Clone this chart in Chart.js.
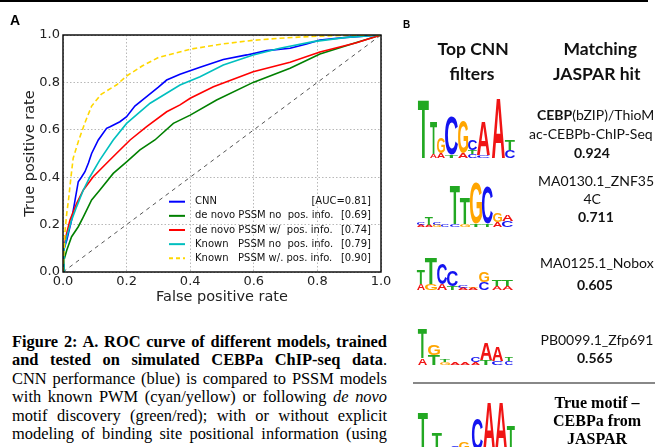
<!DOCTYPE html>
<html><head><meta charset="utf-8">
<script src="https://cdn.jsdelivr.net/npm/chart.js@4.4.0/dist/chart.umd.min.js"></script>
<style>
html,body{margin:0;padding:0;background:#fff;width:655px;height:447px;overflow:hidden;position:relative}
#c{position:absolute;left:0;top:0}
#logo{position:absolute;left:400px;top:0}
.t{position:absolute;white-space:nowrap;color:#111}
.p{display:inline-block;width:0;height:0;vertical-align:baseline}
.j{text-align:justify;text-align-last:justify}
</style></head><body>
<div style="position:absolute;left:0;top:0;width:648px;height:2px;background:#000"></div>
<canvas id="c" width="400" height="310"></canvas>
<canvas id="logo" width="255" height="447"></canvas>
<div id="cap" style="position:absolute;left:12px;top:0;width:375px;font-family:'Liberation Serif';font-size:16.4px;line-height:18.4px;color:#000">
<div class="j"><span class="p" id="capProbe"></span><b>Figure 2: A. ROC curve of different models, trained</b></div>
<div class="j"><b>and tested on simulated CEBPa ChIP-seq data</b>.</div>
<div class="j">CNN performance (blue) is compared to PSSM models</div>
<div class="j">with known PWM (cyan/yellow) or following <i>de novo</i></div>
<div class="j">motif discovery (green/red); with or without explicit</div>
<div class="j">modeling of binding site positional information (using</div>
</div>
<div style="position:absolute;left:413px;top:382px;width:242px;height:2px;background:#888"></div>
<script>
// ---- data ----
const seriesNames = ['CNN','de novo PSSM no  pos. info.','de novo PSSM w/  pos. info.','Known   PSSM no  pos. info.','Known   PSSM w/. pos. info.'];
const aucLabels = ['[AUC=0.81]','[0.69]','[0.74]','[0.79]','[0.90]'];
const tickLabels = ['0.0','0.2','0.4','0.6','0.8','1.0'];
const cnnFpr = [0,0.001,0.003,0.006,0.012,0.02,0.027,0.038,0.048,0.058,0.069,0.08,0.09,0.111,0.137,0.148,0.179,0.2,0.226,0.263,0.3,0.326,0.368,0.431,0.504,0.578,0.64,0.714,0.766,0.808,0.892,1];
const cnnTpr = [0,0.03,0.093,0.11,0.135,0.18,0.219,0.304,0.381,0.40,0.423,0.46,0.50,0.557,0.606,0.613,0.634,0.655,0.70,0.74,0.78,0.81,0.834,0.864,0.897,0.916,0.934,0.944,0.962,0.979,0.99,1];
const dnNoFpr = [0,0.003,0.012,0.027,0.048,0.064,0.09,0.116,0.158,0.2,0.242,0.289,0.347,0.40,0.483,0.598,0.714,0.808,0.923,1];
const dnNoTpr = [0,0.05,0.093,0.149,0.191,0.233,0.304,0.346,0.416,0.465,0.515,0.557,0.627,0.662,0.726,0.80,0.86,0.92,0.968,1];
const dnPosFpr = [0,0.001,0.009,0.022,0.043,0.064,0.095,0.137,0.179,0.211,0.263,0.326,0.368,0.40,0.473,0.598,0.714,0.808,0.923,1];
const dnPosTpr = [0,0.08,0.149,0.219,0.29,0.346,0.402,0.459,0.515,0.557,0.613,0.676,0.705,0.733,0.782,0.845,0.885,0.928,0.967,1];
const knNoFpr = [0,0.003,0.012,0.027,0.043,0.064,0.085,0.116,0.158,0.2,0.274,0.368,0.431,0.504,0.598,0.682,0.787,0.892,1];
const knNoTpr = [0,0.093,0.149,0.219,0.276,0.346,0.402,0.473,0.557,0.627,0.712,0.789,0.824,0.873,0.916,0.944,0.972,0.99,1];
const knPosFpr = [0,0.003,0.006,0.012,0.017,0.025,0.032,0.048,0.069,0.09,0.12,0.169,0.2,0.25,0.3,0.4,0.5,0.6,0.7,0.8,0.9,1];
const knPosTpr = [0,0.08,0.165,0.25,0.30,0.40,0.48,0.55,0.63,0.70,0.75,0.79,0.827,0.87,0.905,0.94,0.962,0.978,0.988,0.995,0.999,1];
const chanceFpr = [0,1];
const chanceTpr = [0,1];

const colors = ['#0000ff','#008000','#ff0000','#00bfbf','#ffd700'];
const pts = (xs,ys)=>xs.map((x,i)=>({x:x,y:ys[i]}));
const curves = [[cnnFpr,cnnTpr],[dnNoFpr,dnNoTpr],[dnPosFpr,dnPosTpr],[knNoFpr,knNoTpr],[knPosFpr,knPosTpr]];
const datasets = curves.map((c,i)=>({
  label: seriesNames[i], data: pts(c[0],c[1]), borderColor: colors[i], borderWidth:1.6,
  borderDash: i===4?[5,3]:[], showLine:true, pointRadius:0, tension:0, fill:false, order:5-i
}));
datasets.push({label:'chance', data: pts(chanceFpr,chanceTpr), borderColor:'#555', borderWidth:1,
  borderDash:[4,4], showLine:true, pointRadius:0, order:10});

const deco = {
  id:'deco',
  afterDatasetsDraw(chart){
    const ctx=chart.ctx, a=chart.chartArea;
    ctx.save();
    ctx.font='10px "DejaVu Sans"'; ctx.textBaseline='middle'; ctx.fillStyle='#111';
    for(let i=0;i<seriesNames.length;i++){
      const y=a.bottom-70.3+i*14.15;
      ctx.beginPath(); ctx.strokeStyle=colors[i]; ctx.lineWidth=2;
      ctx.setLineDash(i===4?[4,3]:[]);
      ctx.moveTo(a.right-212,y); ctx.lineTo(a.right-196,y); ctx.stroke();
      ctx.textAlign='left'; ctx.fillText(seriesNames[i],a.right-186,y);
      ctx.textAlign='right'; ctx.fillText(aucLabels[i],a.right-10,y);
    }
    ctx.restore();
  },
  afterDraw(chart){
    const ctx=chart.ctx, a=chart.chartArea;
    ctx.save(); ctx.strokeStyle='#000'; ctx.lineWidth=1.4; ctx.setLineDash([]);
    ctx.strokeRect(a.left,a.top,a.right-a.left,a.bottom-a.top); ctx.restore();
  }
};

const tickFont = {family:'DejaVu Sans', size:13};
const titleFont = {family:'DejaVu Sans', size:14.5};
new Chart(document.getElementById('c'), {
  type:'scatter',
  data:{datasets:datasets},
  options:{
    responsive:false, animation:false, devicePixelRatio:1,
    layout:{padding:{top:35,right:19,left:0,bottom:0}},
    plugins:{legend:{display:false}, tooltip:{enabled:false}},
    scales:{
      x:{type:'linear',min:0,max:1,
        afterFit(s){s.height=38;},
        ticks:{stepSize:0.2,font:tickFont,color:'#222',padding:2,maxRotation:0,
          callback:(v)=>tickLabels[Math.round(v*5)]},
        grid:{color:'#b8b8b8',drawTicks:false,lineWidth:1},
        border:{display:false,dash:[1.5,2]},
        title:{display:true,text:'False positive rate',font:titleFont,color:'#222',padding:{top:0,bottom:4}}},
      y:{type:'linear',min:0,max:1,
        afterFit(s){s.width=63;},
        ticks:{stepSize:0.2,font:tickFont,color:'#222',padding:3,
          callback:(v)=>tickLabels[Math.round(v*5)]},
        grid:{color:'#b8b8b8',drawTicks:false,lineWidth:1},
        border:{display:false,dash:[1.5,2]},
        title:{display:true,text:'True positive rate',font:titleFont,color:'#222',padding:{top:22,bottom:0}}}
    }
  },
  plugins:[deco]
});

// ---- sequence logos ----
const L=document.getElementById('logo').getContext('2d');
const lc={A:'#f01414',C:'#1414f0',G:'#ffa500',T:'#22a822'};
function letter(ch,x,yb,w,h){
  L.font='bold 100px "Liberation Sans"'; L.textBaseline='alphabetic'; L.textAlign='left';
  const m=L.measureText(ch);
  const gw=m.actualBoundingBoxLeft+m.actualBoundingBoxRight, gh=m.actualBoundingBoxAscent+m.actualBoundingBoxDescent;
  L.save(); L.translate(x-400,yb); L.scale(w/gw,h/gh); L.fillStyle=lc[ch];
  L.fillText(ch,m.actualBoundingBoxLeft,-m.actualBoundingBoxDescent); L.restore();
}
function logo(base,cols){cols.forEach(([x,w,st])=>{let y=base;st.forEach(([ch,h])=>{letter(ch,x,y,w,h);y-=h;});});}
logo(158,[[418,11,[['T',59]]],[430,7,[['A',4],['T',32]]],[437,8,[['A',5],['G',16]]],[445,13,[['T',3],['C',38]]],[458,10,[['A',5],['G',33]]],[468,9,[['C',4],['T',4],['C',10]]],[477,13,[['C',3],['A',34]]],[492,13,[['A',60]]],[505,10,[['C',8],['T',10]]]]);
logo(227,[[417,8,[['A',2],['C',2]]],[425,8,[['A',2],['T',8]]],[433,8,[['G',2],['C',2]]],[441,8,[['C',3]]],[450,10,[['C',3],['T',39]]],[460,10,[['G',3],['T',26]]],[470,12,[['T',3],['G',41]]],[482,11,[['T',3],['C',37]]],[493,9,[['A',5],['G',9]]],[502,11,[['C',6],['A',6]]]]);
logo(290,[[417,8,[['A',6],['T',14]]],[425,12,[['G',6],['T',26]]],[437,10,[['A',6],['C',21]]],[447,11,[['T',4],['C',16]]],[458,10,[['A',2],['C',2]]],[468,10,[['A',2],['G',1]]],[479,10,[['C',8],['G',10]]],[492,10,[['A',4],['T',6]]],[502,11,[['A',4],['T',6]]]]);
logo(365,[[418,9,[['A',7],['T',30]]],[428,12,[['T',10],['G',10]]],[440,10,[['G',3],['T',2]]],[450,10,[['A',2]]],[460,10,[['A',2]]],[471,9,[['A',3],['C',5]]],[480,12,[['T',5],['A',17]]],[492,11,[['C',4],['A',14]]],[505,8,[['C',4],['T',4]]]]);
logo(450,[[418,10,[['T',38]]],[432,10,[['T',17]]],[443,8,[['C',3]]],[451,8,[['C',4]]],[459,10,[['G',8]]],[472,11,[['C',32]]],[483,12,[['A',48]]],[495,12,[['A',48]]],[507,8,[['T',25]]]]);

// ---- text placement helper (by baseline) ----
function put(html,css,base,cx,left){
  const d=document.createElement('div'); d.className='t'; d.style.cssText+=css;
  d.innerHTML='<span class="p"></span>'+html; d.style.top='0px'; d.style.left='0px';
  document.body.appendChild(d);
  const pb=d.querySelector('.p').getBoundingClientRect().top;
  d.style.top=(base-pb)+'px';
  if(left!==undefined) d.style.left=left+'px'; else d.style.left=(cx-d.offsetWidth/2)+'px';
}
const sans='font-family:Lato;font-size:14px;';
const head='font-family:Lato;font-weight:bold;font-size:17.5px;';
const serif='font-family:"Liberation Serif";font-weight:bold;font-size:16px;color:#000;';
put('A','font-family:"Liberation Sans";font-weight:bold;font-size:14px;color:#000;',25,0,10);
put('B','font-family:"Liberation Sans";font-weight:bold;font-size:10px;color:#000;',28,0,403);
put('Top CNN',head,55,473); put('filters',head,80,472);
put('Matching',head,55,600); put('JASPAR hit',head,80,597);
put('<b>CEBP</b>(bZIP)/ThioM',sans,120,0,537);
put('ac-CEBPb-ChIP-Seq',sans,139,591);
put('<b>0.924</b>',sans,158,592);
put('MA0130.1_ZNF35',sans,186,596);
put('4C',sans,204,592);
put('<b>0.711</b>',sans,222,596);
put('MA0125.1_Nobox',sans,268,597);
put('<b>0.605</b>',sans,290,595);
put('PB0099.1_Zfp691',sans,345,597);
put('<b>0.565</b>',sans,363,595);
put('True motif –',serif,408,597);
put('CEBPa from',serif,426,597);
put('JASPAR',serif,444,597);
// caption: first baseline at 347
const cap=document.getElementById('cap');
const cb=document.getElementById('capProbe').getBoundingClientRect().top;
cap.style.top=(347-cb)+'px';
</script>
</body></html>
